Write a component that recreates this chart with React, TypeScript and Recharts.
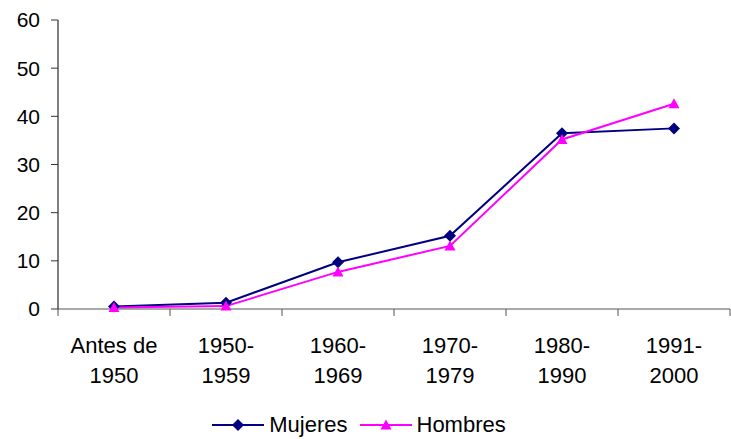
import { LineChart, Line, XAxis, YAxis, Legend } from "recharts";

const periods = ["Antes de|1950", "1950-|1959", "1960-|1969", "1970-|1979", "1980-|1990", "1991-|2000"];
const mujeres = [0.5, 1.3, 9.7, 15.2, 36.5, 37.5];
const hombres = [0.3, 0.6, 7.7, 13.1, 35.2, 42.6];
const yTicks = [0, 10, 20, 30, 40, 50, 60];

const series = [
  { key: "mujeres", name: "Mujeres", color: "#000080", shape: "diamond" },
  { key: "hombres", name: "Hombres", color: "#FF00FF", shape: "triangle" },
];

const data = periods.map((p, i) => ({ period: p, mujeres: mujeres[i], hombres: hombres[i] }));

const FONT = "'Liberation Sans', Arial, sans-serif";

function Marker({ cx, cy, shape, color }: any) {
  if (cx == null || cy == null) return null;
  if (shape === "diamond") {
    return <path d={`M${cx},${cy - 6} L${cx + 6},${cy} L${cx},${cy + 6} L${cx - 6},${cy} Z`} fill={color} />;
  }
  return <path d={`M${cx},${cy - 5.5} L${cx + 5.5},${cy + 4.5} L${cx - 5.5},${cy + 4.5} Z`} fill={color} />;
}

function PeriodTick({ x, y, payload, index, visibleTicksCount }: any) {
  const half = payload.offset || 56;
  const [l1, l2] = String(payload.value).split("|");
  const last = index === (visibleTicksCount ?? periods.length) - 1;
  return (
    <g>
      <line x1={x - half} y1={y} x2={x - half} y2={y + 7} stroke="#555" />
      {last && <line x1={x + half} y1={y} x2={x + half} y2={y + 7} stroke="#555" />}
      <text x={x} y={y + 44} textAnchor="middle" fontSize={22} fill="#000" fontFamily={FONT}>
        {l1}
      </text>
      <text x={x} y={y + 74} textAnchor="middle" fontSize={22} fill="#000" fontFamily={FONT}>
        {l2}
      </text>
    </g>
  );
}

function LegendBox() {
  return (
    <div style={{ display: "flex", justifyContent: "center", alignItems: "center", fontFamily: FONT, fontSize: 22, paddingRight: 12, paddingTop: 11 }}>
      {series.map((s, i) => (
        <div key={s.key} style={{ display: "flex", alignItems: "center", marginLeft: i ? 12 : 0 }}>
          <svg width={52} height={14}>
            <line x1={0} y1={7} x2={52} y2={7} stroke={s.color} strokeWidth={2} />
            <Marker cx={26} cy={7} shape={s.shape} color={s.color} />
          </svg>
          <span style={{ marginLeft: 5, color: "#000" }}>{s.name}</span>
        </div>
      ))}
    </div>
  );
}

export default function App() {
  return (
    <div style={{ position: "absolute", left: 0, top: 0, width: 731, height: 439, background: "#fff" }}>
      <LineChart width={731} height={439} data={data} margin={{ top: 20, right: 1, left: 0, bottom: 0 }}>
        <XAxis
          dataKey="period"
          type="category"
          scale="band"
          height={92}
          interval={0}
          tickSize={0}
          tickMargin={0}
          tickLine={false}
          axisLine={{ stroke: "#555" }}
          tick={<PeriodTick />}
        />
        <YAxis
          width={58}
          domain={[0, 60]}
          ticks={yTicks}
          interval={0}
          tickSize={7}
          tickMargin={11}
          axisLine={{ stroke: "#000" }}
          tickLine={{ stroke: "#333" }}
          tick={{ fontSize: 21, fill: "#000", fontFamily: FONT }}
        />
        <Legend verticalAlign="bottom" height={38} content={<LegendBox />} />
        {series.map((s) => (
          <Line
            key={s.key}
            dataKey={s.key}
            name={s.name}
            stroke={s.color}
            strokeWidth={2}
            isAnimationActive={false}
            dot={<Marker shape={s.shape} color={s.color} />}
            activeDot={false}
          />
        ))}
      </LineChart>
    </div>
  );
}
